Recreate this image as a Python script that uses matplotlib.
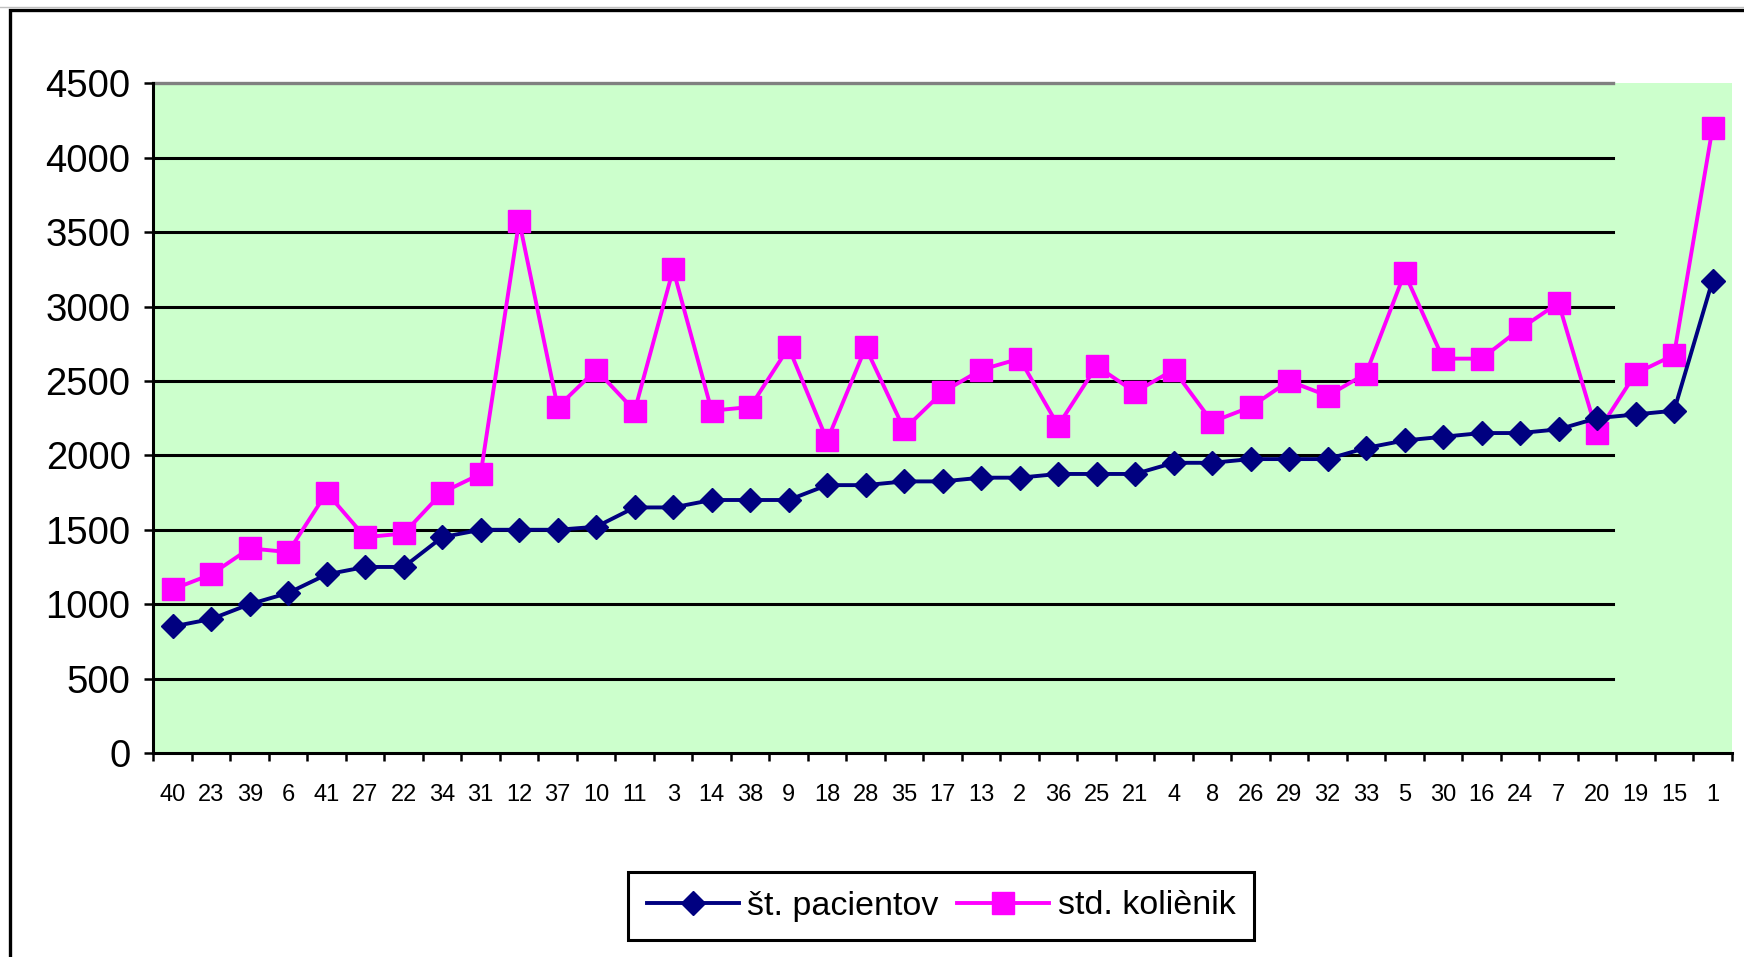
import matplotlib.pyplot as plt
from matplotlib.axes import Axes
from matplotlib.figure import Figure
from matplotlib.lines import Line2D
from matplotlib.patches import Rectangle

# patient ids in the order shown on the x axis
patients: list = [
    "40", "23", "39", "6", "41", "27", "22", "34", "31", "12",
    "37", "10", "11", "3", "14", "38", "9", "18", "28", "35",
    "17", "13", "2", "36", "25", "21", "4", "8", "26", "29",
    "32", "33", "5", "30", "16", "24", "7", "20", "19", "15", "1",
]

st_pacientov: list = [
    850, 900, 1000, 1075, 1200, 1250, 1250, 1450, 1500, 1500,
    1500, 1520, 1650, 1650, 1700, 1700, 1700, 1800, 1800, 1825,
    1825, 1850, 1850, 1875, 1875, 1875, 1950, 1950, 1975, 1975,
    1975, 2050, 2100, 2125, 2150, 2150, 2175, 2250, 2275, 2300, 3175,
]

std_kolienik: list = [
    1100, 1200, 1375, 1350, 1750, 1450, 1475, 1750, 1875, 3575,
    2325, 2575, 2300, 3250, 2300, 2325, 2725, 2100, 2725, 2175,
    2425, 2575, 2650, 2200, 2600, 2425, 2575, 2225, 2325, 2500,
    2400, 2550, 3225, 2650, 2650, 2850, 3025, 2150, 2550, 2675, 4200,
]

y_ticks: list = [0, 500, 1000, 1500, 2000, 2500, 3000, 3500, 4000, 4500]

FONT: list = ["Liberation Sans", "DejaVu Sans"]
GRID_END: float = 0.9246  # gridlines stop short of the last three points


def draw_frame(figure: Figure) -> None:
    # the outer chart border, cut off at the right and bottom
    figure.add_artist(
        Line2D([0, 1], [0.9927, 0.9927], transform=figure.transFigure,
               color="#c0c0c0", lw=1.0)
    )
    figure.add_artist(
        Rectangle((10 / 1744, -0.1), 1.2, 1.0895, transform=figure.transFigure,
                  fill=False, edgecolor="black", lw=2.4)
    )


def style_axes(ax: Axes) -> None:
    ax.set_facecolor("#ccffcc")
    ax.set_xlim(-0.5, len(patients) - 0.5)
    ax.set_ylim(0, 4500)

    for y in y_ticks[1:-1]:
        ax.axhline(y, xmax=GRID_END, color="black", lw=2.2, zorder=1)
    ax.axhline(4500, xmax=GRID_END, color="#808080", lw=2.4, zorder=1, clip_on=False)

    for side in ["top", "right"]:
        ax.spines[side].set_visible(False)
    for side in ["left", "bottom"]:
        ax.spines[side].set_linewidth(2.2)
        ax.spines[side].set_color("black")

    ax.set_yticks(y_ticks)
    ax.set_yticklabels([str(v) for v in y_ticks], family=FONT, fontsize=27.5)
    ax.tick_params(axis="y", length=6.5, width=1.8, pad=10, direction="out")

    ax.set_xticks(range(len(patients)))
    ax.set_xticklabels(patients, family=FONT, fontsize=17)
    ax.set_xticks([i - 0.5 for i in range(len(patients) + 1)], minor=True)
    ax.tick_params(axis="x", which="major", length=0, pad=22)
    ax.tick_params(axis="x", which="minor", length=6, width=1.8, direction="out")


def main() -> None:
    figure: Figure = plt.figure(figsize=(17.44, 9.57), dpi=100)
    ax: Axes = figure.add_axes([0.088, 0.2132, 0.905, 0.6997])

    style_axes(ax)

    x: list = list(range(len(patients)))
    ax.plot(x, st_pacientov, color="#000080", lw=2.8, marker="D", ms=12,
            label="št. pacientov", zorder=4, clip_on=False)
    ax.plot(x, std_kolienik, color="#ff00ff", lw=2.8, marker="s", ms=16.5,
            label="std. koliènik", zorder=3, clip_on=False)

    legend = ax.legend(
        loc="center", bbox_to_anchor=(941 / 1744, 1 - 906 / 957),
        bbox_transform=figure.transFigure, ncol=2, fancybox=False,
        frameon=True, edgecolor="black", framealpha=1, borderpad=0.55,
        handlelength=2.7, handletextpad=0.25, columnspacing=0.55,
        borderaxespad=0, prop={"family": FONT, "size": 24.5},
    )
    legend.get_frame().set_linewidth(2.2)

    draw_frame(figure)

    figure.savefig("out.png", dpi=100)


if __name__ == "__main__":
    main()
